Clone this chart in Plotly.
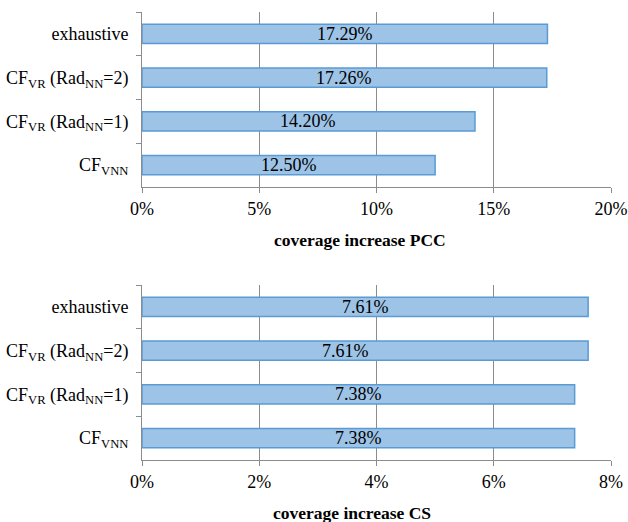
import plotly.graph_objects as go

# Methods, listed top to bottom
methods = [
    "exhaustive",
    "CF<sub>VR</sub> (Rad<sub>NN</sub>=2)",
    "CF<sub>VR</sub> (Rad<sub>NN</sub>=1)",
    "CF<sub>VNN</sub>",
]
pcc_increase = [0.1729, 0.1726, 0.1420, 0.1250]
cs_increase = [0.0761, 0.0761, 0.0738, 0.0738]

FONT = "Liberation Serif"
FILL = "#9DC3E6"
EDGE = "#5B9BD5"
GRID = "#8C8C8C"
W, H = 628, 522
FS = 18


def bar(values, xa, ya):
    return go.Bar(
        x=values, y=methods, orientation="h",
        xaxis=xa, yaxis=ya,
        marker=dict(color=FILL, line=dict(color=EDGE, width=1.5)),
        showlegend=False, hoverinfo="skip",
    )


def value_labels(values, xa, ya, shifts):
    # percentage label centred in each bar (one label nudged left)
    return [
        dict(text=f"{v*100:.2f}%", x=v / 2, y=m, xref=xa, yref=ya,
             xshift=s, showarrow=False, xanchor="center", yanchor="middle",
             font=dict(family=FONT, size=FS, color="black"))
        for v, m, s in zip(values, methods, shifts)
    ]


fig = go.Figure()
fig.add_trace(bar(pcc_increase, "x", "y"))
fig.add_trace(bar(cs_increase, "x2", "y2"))

x_dom = [142 / W, 611 / W]
top_dom = [1 - 187 / H, 1 - 12 / H]
bot_dom = [1 - 460 / H, 1 - 285 / H]

xcommon = dict(
    tickformat=".0%", showgrid=True, gridcolor=GRID, gridwidth=1,
    showline=True, linecolor=GRID, linewidth=1,
    ticks="outside", ticklen=5, tickcolor=GRID,
    tickfont=dict(family=FONT, size=FS, color="black"),
    zeroline=False, domain=x_dom, fixedrange=True, automargin=False,
)
ycommon = dict(
    type="category", autorange="reversed", showgrid=False,
    showline=True, linecolor=GRID, linewidth=1,
    ticks="outside", ticklen=5, tickcolor=GRID, tickson="boundaries",
    tickfont=dict(family=FONT, size=FS, color="black"),
    ticklabelstandoff=9, zeroline=False, fixedrange=True, automargin=False,
)

titles = [
    dict(text="<b>coverage increase PCC</b>", x=360 / W, y=1 - 240 / H,
         xref="paper", yref="paper", showarrow=False,
         xanchor="center", yanchor="middle",
         font=dict(family=FONT, size=17.5, color="black")),
    dict(text="<b>coverage increase CS</b>", x=352 / W, y=1 - 513 / H,
         xref="paper", yref="paper", showarrow=False,
         xanchor="center", yanchor="middle",
         font=dict(family=FONT, size=17.5, color="black")),
]

fig.update_layout(
    width=W, height=H,
    margin=dict(l=0, r=0, t=0, b=0),
    paper_bgcolor="white", plot_bgcolor="white",
    font=dict(family=FONT, color="black"),
    bargap=0.56,
    xaxis=dict(xcommon, range=[0, 0.20], dtick=0.05, anchor="y"),
    yaxis=dict(ycommon, domain=top_dom, anchor="x"),
    xaxis2=dict(xcommon, range=[0, 0.08], dtick=0.02, anchor="y2"),
    yaxis2=dict(ycommon, domain=bot_dom, anchor="x2"),
    annotations=titles
    + value_labels(pcc_increase, "x", "y", [0, 0, 0, 0])
    + value_labels(cs_increase, "x2", "y2", [0, -20, 0, 0]),
)

fig.write_html("out.html")
